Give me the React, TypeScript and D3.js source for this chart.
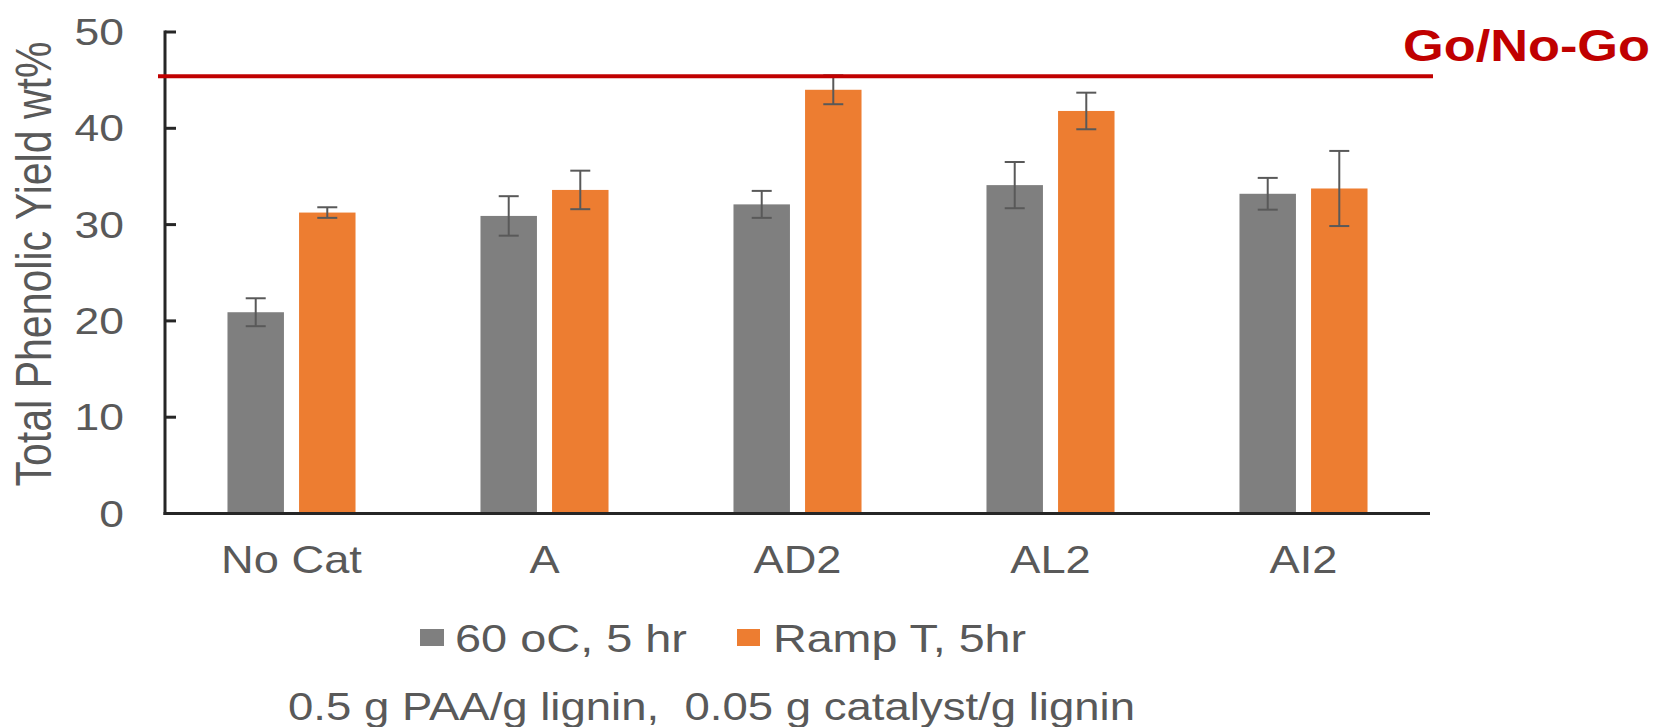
import React from "react";
import * as d3 from "d3";

const categories = ["No Cat", "A", "AD2", "AL2", "AI2"];
const seriesKeys = ["s60", "ramp"];
const seriesNames = ["60 oC, 5 hr", "Ramp T, 5hr"];
const series60 = [20.9, 30.9, 32.1, 34.1, 33.2];
const series60Err = [1.45, 2.05, 1.4, 2.4, 1.65];
const seriesRamp = [31.25, 33.6, 44.0, 41.8, 33.75];
const seriesRampErr = [0.55, 2.0, 1.5, 1.9, 3.9];
const yTicks = [0, 10, 20, 30, 40, 50];
const goNoGoValue = 45.4;
const goNoGoLabel = "Go/No-Go";
const yTitle = "Total Phenolic Yield wt%";
const subtitle = "0.5 g PAA/g lignin,  0.05 g catalyst/g lignin";

const W = 1653;
const H = 727;
const FONT = "'Liberation Sans', Arial, sans-serif";
const TEXT = "#595959";
const COLORS = ["#7F7F7F", "#ED7D31"];
const AXIS = "#262626";
const RED = "#C00000";

export default function App() {
  const x0 = d3.scaleBand<string>().domain(categories).range([165, 1430]).paddingInner(0).paddingOuter(0);
  const x1 = d3
    .scaleBand<string>()
    .domain(seriesKeys)
    .range([0, x0.bandwidth()])
    .paddingInner(0.211)
    .paddingOuter(0.873);
  const y = d3.scaleLinear().domain([0, 50]).range([513.5, 32]);

  const values = [series60, seriesRamp];
  const errs = [series60Err, seriesRampErr];

  const axisX = 165;
  const capW = 20;

  return (
    <svg
      width={W}
      height={H}
      viewBox={`0 0 ${W} ${H}`}
      style={{ position: "absolute", left: 0, top: 0, background: "#fff" }}
      fontFamily={FONT}
    >
      <rect x={0} y={0} width={W} height={H} fill="#fff" />

      {/* bars */}
      {categories.map((c, i) => (
        <g key={c}>
          {seriesKeys.map((k, s) => {
            const bx = (x0(c) as number) + (x1(k) as number);
            const v = values[s][i];
            return (
              <rect
                key={k}
                x={bx}
                y={y(v)}
                width={x1.bandwidth()}
                height={y(0) - y(v)}
                fill={COLORS[s]}
              />
            );
          })}
        </g>
      ))}

      {/* error bars */}
      {categories.map((c, i) => (
        <g key={c + "-err"} stroke={TEXT} strokeWidth={2}>
          {seriesKeys.map((k, s) => {
            const cx = (x0(c) as number) + (x1(k) as number) + x1.bandwidth() / 2;
            const v = values[s][i];
            const e = errs[s][i];
            const yt = y(v + e);
            const yb = y(v - e);
            return (
              <g key={k}>
                <line x1={cx} x2={cx} y1={yt} y2={yb} />
                <line x1={cx - capW / 2} x2={cx + capW / 2} y1={yt} y2={yt} />
                <line x1={cx - capW / 2} x2={cx + capW / 2} y1={yb} y2={yb} />
              </g>
            );
          })}
        </g>
      ))}

      {/* axes */}
      <line x1={axisX} x2={axisX} y1={y(50) - 1.5} y2={y(0) + 1.5} stroke={AXIS} strokeWidth={3} />
      <line x1={axisX - 1.5} x2={1430} y1={y(0)} y2={y(0)} stroke={AXIS} strokeWidth={3} />
      {yTicks.map((t) => (
        <g key={t}>
          <line x1={axisX} x2={axisX + 11} y1={y(t)} y2={y(t)} stroke={AXIS} strokeWidth={3} />
          <text
            transform={`translate(124, ${y(t) + 13}) scale(1.2, 1)`}
            textAnchor="end"
            fontSize={37}
            fill={TEXT}
          >
            {t}
          </text>
        </g>
      ))}

      {/* y title */}
      <text
        transform={`translate(51, 264) rotate(-90) scale(1, 1.2)`}
        textAnchor="middle"
        fontSize={41}
        fill={TEXT}
        textLength={445}
        lengthAdjust="spacingAndGlyphs"
      >
        {yTitle}
      </text>

      {/* x labels */}
      {categories.map((c) => (
        <text
          key={c + "-lab"}
          transform={`translate(${(x0(c) as number) + x0.bandwidth() / 2}, 573) scale(1.16, 1)`}
          textAnchor="middle"
          fontSize={39}
          fill={TEXT}
        >
          {c}
        </text>
      ))}

      {/* go/no-go line */}
      <line x1={158} x2={1433} y1={y(goNoGoValue)} y2={y(goNoGoValue)} stroke={RED} strokeWidth={4} />
      <text
        x={1403}
        y={61}
        fontSize={44}
        fontWeight="bold"
        fill={RED}
        textLength={247}
        lengthAdjust="spacingAndGlyphs"
      >
        {goNoGoLabel}
      </text>

      {/* legend */}
      <rect x={420} y={629} width={24} height={17} fill={COLORS[0]} />
      <text x={455} y={652} fontSize={39} fill={TEXT} textLength={232} lengthAdjust="spacingAndGlyphs">
        {seriesNames[0]}
      </text>
      <rect x={737} y={629} width={23} height={17} fill={COLORS[1]} />
      <text x={773} y={652} fontSize={39} fill={TEXT} textLength={253} lengthAdjust="spacingAndGlyphs">
        {seriesNames[1]}
      </text>

      {/* subtitle */}
      <text
        x={288}
        y={720}
        fontSize={39}
        fill={TEXT}
        textLength={847}
        lengthAdjust="spacingAndGlyphs"
        style={{ whiteSpace: "pre" }}
      >
        {subtitle}
      </text>
    </svg>
  );
}
